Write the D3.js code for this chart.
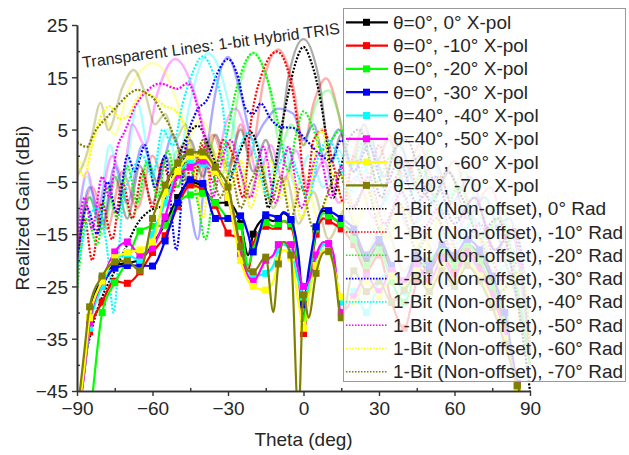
<!DOCTYPE html>
<html><head><meta charset="utf-8">
<script src="https://cdn.jsdelivr.net/npm/d3@7"></script>
<style>body{margin:0;background:#fff;} svg{display:block;font-family:"Liberation Sans",Arial,sans-serif;}</style>
</head><body><svg id="c" width="629" height="455"></svg>
<script>
const colors = ["#000000","#ff0000","#00ff00","#0000ff","#00ffff","#ff00ff","#ffff00","#808000"];
const xpolLabels = ["θ=0°, 0° X-pol","θ=0°, -10° X-pol","θ=0°, -20° X-pol","θ=0°, -30° X-pol","θ=40°, -40° X-pol","θ=40°, -50° X-pol","θ=40°, -60° X-pol","θ=40°, -70° X-pol"];
const radLabels = ["1-Bit (Non-offset), 0° Rad","1-Bit (Non-offset), -10° Rad","1-Bit (Non-offset), -20° Rad","1-Bit (Non-offset), -30° Rad","1-Bit (Non-offset), -40° Rad","1-Bit (Non-offset), -50° Rad","1-Bit (Non-offset), -60° Rad","1-Bit (Non-offset), -70° Rad"];
const xTicks = [-90,-60,-30,0,30,60,90];
const yTicks = [-45,-35,-25,-15,-5,5,15,25];

// X-pol curves (theta grid shared)
const thetaX = [-90,-87,-85,-80,-75,-70,-65,-60,-55,-50,-45,-40,-35,-30,-25,-22,-20,-15,-12,-10,-8,-5,-2,0,2,5,8,10,12,15,20,25,30,35,40,45,50,55,60,65,70,75,80,85,88,90];
const xpol0 = [-52,-40,-31,-23.5,-21,-20.5,-20,-17,-13,-8,-5,-6,-9,-9,-13,-19,-15,-12,-12.5,-12,-11,-12.5,-20,-31,-24,-14,-10.5,-11,-12,-13,-15,-20,-17,-22,-25,-20,-22,-18,-20,-17,-19,-24,-32,-44,-48,-52];
const xpol10 = [-52,-41,-33.7,-28,-24,-24.4,-22.2,-18.5,-15.3,-9.7,-5.6,-6.6,-9.5,-14.8,-16,-22,-17,-13.5,-14,-13.5,-12.5,-13.5,-22,-34,-26,-15,-12,-12.5,-13,-14,-17,-22,-19,-28,-33,-24,-21,-19,-22,-18,-21,-26,-33,-44.5,-48,-52];
const xpol20 = [-60,-55,-50,-30,-24.3,-20,-14.4,-13.5,-13.3,-9,-7.5,-7.2,-9,-12,-13.5,-21,-18,-12.8,-13.5,-13,-12.5,-13,-21,-31,-25,-14,-11,-11.5,-12,-13,-16,-21,-18,-24,-28,-22,-20,-18,-21,-17,-20,-25,-31,-44,-48,-52];
const xpol30 = [-50,-39,-32,-25,-21.5,-21,-21,-21.1,-16.3,-9,-4.6,-5.3,-12,-12,-11.5,-15,-18.4,-11.3,-11.5,-12,-10.8,-12.2,-19,-28.5,-22,-13.6,-10,-10.5,-11,-12,-14,-19,-16,-21,-24,-19,-21,-17,-19,-16,-18,-23,-30,-43.5,-48,-52];
const xpol40 = [-52,-41,-33,-25,-19.5,-19,-20,-15,-9,-3.5,-1.5,-1.5,-3,-8,-17.5,-22,-23,-22.5,-21,-18,-17,-18.5,-24,-27,-25,-20,-17,-17.5,-20,-28,-26,-30,-24,-22,-26,-22,-25,-21,-24,-20,-22,-27,-34,-44,-48,-52];
const xpol50 = [-52,-41,-32,-24,-18.4,-16.5,-19,-17.6,-11.7,-3.7,-2.2,-1,-3,-8,-19,-23,-24,-20,-19,-17,-16.5,-17,-22,-25,-24,-19,-16.5,-16.8,-19,-30,-27,-23,-26,-22,-24,-21,-24,-20,-23,-19,-22,-27,-34,-44,-48,-52];
const xpol60 = [-52,-40,-31,-24,-19.5,-18.5,-18,-16.5,-7,-3,0,0,-3,-8,-20,-24,-25,-25.7,-24,-20,-18,-19.5,-28,-33,-27,-21,-18,-18.5,-21,-27,-28,-24,-27,-23,-25,-22,-25,-21,-24,-20,-23,-28,-35,-44.5,-48,-52];
const xpol70 = [-50,-37,-28.9,-23,-20.3,-20.1,-22,-12,-5.6,-1.4,0.7,0.7,-2.2,-6,-17.4,-22,-22.2,-19.4,-29.9,-20.7,-16.5,-19,-50,-26.6,-31,-22.5,-18.5,-18.3,-21,-31,-22,-26,-24,-28,-25.7,-23,-26,-22,-25,-21,-24,-29,-36,-44,-48,-52];

// 1-bit non-offset radiation patterns: [theta, gain]
const rad0 = [[-90,-60],[-88,-44],[-84,-33],[-80,-27],[-76,-23],[-71,-18],[-66,-13],[-61,-10.5],[-56,-9.5],[-52,-4],[-47,3],[-42,5.7],[-37,1],[-31,-6],[-26,0],[-21,4.5],[-17,-1],[-14,-10],[-10,2],[-6,12],[-3,18],[0,20.8],[3,18],[7,10],[10,0],[12,-8],[14,-4],[18,3],[22,5],[27,-2],[31,-8],[36,1],[41,3],[46,-3],[51,-9],[57,-3],[63,-8],[70,-15],[77,-12],[84,-25],[90,-45]];
const rad10 = [[-90,-22],[-87,-12],[-84,-20],[-80,-9],[-76,-16],[-72,-5],[-68,-12],[-64,-3],[-60,-10],[-56,-1],[-52,-7],[-48,1],[-44,-6],[-40,2],[-36,-5],[-32,3],[-28,0],[-24,-8],[-21,6],[-17,15],[-10.5,19.9],[-5,14],[-2,5],[1,-7],[4,3],[8,5],[12,-2],[16,-9],[20,0],[25,-6],[30,2],[35,-5],[41,-1],[47,-8],[54,-4],[61,-12],[68,-8],[76,-18],[83,-14],[90,-38]];
const rad20 = [[-90,-26],[-86,-12],[-82,-17],[-78,-6],[-74,-12],[-70,-2],[-66,-9],[-62,-1],[-58,-8],[-54,1],[-50,-6],[-46,-1],[-42,-9],[-39,-16],[-35,-4],[-31,3],[-26,14],[-20,19.6],[-14,14],[-10,6],[-6,-3],[-3,4],[0,8.5],[4,5],[7,1],[11,3],[15,5],[19,-2],[24,3],[29,-5],[35,0],[41,-8],[48,-3],[55,-11],[62,-6],[70,-16],[78,-12],[86,-28],[90,-40]];
const rad30 = [[-90,-20],[-86,-10],[-82,-15],[-78,-5],[-74,-11],[-70,0],[-67,-3],[-63,2],[-59,-6],[-55,0],[-50.5,-18],[-47,1],[-43,8],[-38,11],[-34,16],[-30,18.5],[-26,15],[-23,9],[-20,8],[-17,10],[-13,7],[-9,5.5],[-4,5.3],[1,3],[6,0.5],[11,-1],[15,3],[20,-3],[26,2],[32,-6],[38,-1],[45,-9],[52,-4],[60,-13],[68,-8],[76,-18],[84,-14],[90,-35]];
const rad40 = [[-90,-22],[-86,-13],[-82,-10],[-78,-18],[-75.5,-30],[-72,-10],[-68,-3],[-64,0],[-60,-4],[-56,5],[-52,2],[-48,10],[-44,16],[-40,19],[-36,16],[-32,9],[-29,-4],[-25,2],[-22,4.5],[-18,-2],[-14,-8],[-10,-2],[-6,1],[-2,-4],[2,-8],[6,0],[10,3],[14,-1],[18,-7],[24,-2],[30,-10],[37,-5],[44,-13],[52,-8],[60,-17],[68,-12],[77,-22],[85,-18],[90,-35]];
const rad50 = [[-90,-18],[-87,-8],[-84,-14],[-80,-4],[-77,-8],[-74.5,0.5],[-70.7,5],[-67,9.3],[-62,12.5],[-57,13.8],[-50,12.8],[-46,13.9],[-42,9],[-39,2],[-36,-8],[-33,-2],[-29,3],[-25,-3],[-21,-8],[-16,1.7],[-11,-9],[-6,1.7],[-1,-10],[6,0.5],[11,-8],[15,-2],[20,-10],[26,-4],[32,-13],[39,-7],[46,-15],[54,-10],[62,-19],[70,-13],[79,-24],[86,-20],[90,-36]];
const rad60 = [[-90,-1],[-87,-4],[-84,2],[-80,8],[-77,9.5],[-73,7],[-70,7.5],[-66,11],[-63,12],[-59,11],[-55,9.5],[-51,8.7],[-47,5],[-43,-4],[-40,-12],[-37,-2],[-33,1],[-29,-6],[-25,-1],[-21,-10],[-17,-4],[-13,-1],[-9,-8],[-5,-3],[-1,-12],[2,-8],[7,5],[12,-4],[16,-4],[21,-13],[27,-7],[33,-16],[40,-10],[47,-18],[55,-12],[63,-21],[71,-16],[80,-26],[87,-22],[90,-36]];
const rad70 = [[-90,2.6],[-86,1.7],[-83,4.5],[-78,7.4],[-74,9.5],[-70,11.5],[-66,12.6],[-62,11.8],[-60,11.2],[-56,8],[-53,5.5],[-49,0],[-46,-6],[-43,-2],[-40,3],[-37,-1],[-33,-8],[-29,-3],[-25,-10],[-21,-5],[-17,-2],[-13,-9],[-9,-4],[-5,-12],[-1,-6],[4,-14],[9,-8],[14,-3],[19,-10],[25,-6],[31,-15],[38,-9],[45,-18],[53,-12],[61,-21],[69,-15],[78,-26],[86,-22],[90,-38]];

// transparent lines: 1-bit hybrid TRIS, [theta, gain]
const hyb0 = [[-90,-20],[-85,-8],[-80,-14],[-75,-4],[-70,-12],[-65,-2],[-60,-9],[-55,0],[-50,-6],[-45,3],[-40,-4],[-35,4],[-30,-2],[-25,5],[-20,-3],[-15,3],[-11,-2],[-6,15],[0,22.3],[6,15],[11,-1],[15,4],[19,-2],[24,6],[29,-1],[34,3],[40,-5],[46,0],[52,-8],[58,-3],[65,-12],[72,-8],[80,-20],[86,-30],[90,-40]];
const hyb10 = [[-90,-18],[-84,-6],[-78,-14],[-72,-3],[-66,-10],[-60,0],[-54,-7],[-48,2],[-42,-5],[-36,4],[-30,-3],[-25,6],[-21,0],[-16,14],[-10,20.3],[-4,13],[0,2],[4,10],[9,14.8],[14,8],[18,-2],[23,5],[28,-3],[34,4],[40,-4],[46,2],[53,-6],[60,-1],[67,-10],[74,-6],[82,-20],[90,-38]];
const hyb20 = [[-90,-22],[-85,-8],[-80,-15],[-74,-4],[-68,-12],[-62,-1],[-56,-8],[-50,1],[-44,-6],[-38,3],[-33,-4],[-30,0],[-25,14],[-20,19.8],[-14,14],[-9,2],[-5,6],[0,2],[5,10],[10,12.5],[15,6],[20,-3],[26,4],[32,-4],[38,3],[44,-5],[50,1],[57,-8],[64,-3],[71,-12],[78,-9],[85,-25],[90,-40]];
const hyb30 = [[-90,-20],[-85,-6],[-80,-13],[-75,-2],[-70,-9],[-64,2],[-58,-5],[-52,4],[-47,-4],[-42,-16],[-39,-2],[-35,12],[-30,18.9],[-25,12],[-20,3],[-16,6],[-10,9],[-4,8],[0,3],[4,6],[8,0],[14,5],[20,-3],[26,4],[32,-4],[38,2],[45,-6],[52,-1],[59,-9],[66,-4],[74,-14],[82,-12],[88,-30],[90,-36]];
const hyb40 = [[-90,-14],[-86,-4],[-82,-12],[-77,2],[-72,-6],[-66,10],[-60,-3],[-54,5],[-50,-2],[-46,8],[-42,16],[-38,19.6],[-33,16],[-28,6],[-24,-4],[-19,3],[-14,-4],[-8,2],[-3,-6],[2,0],[8,-6],[14,1],[20,-7],[27,-1],[34,-9],[41,-3],[48,-11],[56,-5],[64,-14],[72,-8],[80,-20],[87,-30],[90,-38]];
const hyb50 = [[-90,-15],[-86,-3],[-82,-10],[-76,0],[-72,-4],[-68,6],[-63,2],[-58,12],[-51,18.5],[-44,13],[-39,4],[-35,-2],[-31,6],[-27,9],[-22,3],[-18,-4],[-13,2],[-8,-5],[-3,1],[2,-6],[8,-1],[14,-9],[21,-4],[28,-12],[35,-6],[42,-14],[50,-8],[58,-17],[66,-11],[75,-22],[83,-16],[90,-35]];
const hyb60 = [[-90,0],[-87,-2],[-83,4],[-79,7],[-75,4],[-70,12],[-65,16],[-60,17.7],[-55,16],[-50,10],[-45,4],[-41,7],[-37,4],[-33,-4],[-29,1],[-25,-6],[-20,0],[-15,-8],[-10,-2],[-5,-10],[0,-3],[6,-12],[12,-5],[19,-14],[26,-7],[33,-16],[40,-9],[48,-18],[56,-11],[64,-20],[72,-14],[80,-25],[90,-35]];
const hyb70 = [[-90,-4],[-87,-1],[-84,4],[-80.7,10.1],[-77.5,4.9],[-72,13],[-67.5,16.4],[-63,12],[-59,6],[-55,8],[-51,3],[-47,6],[-42,-3],[-37,2],[-32,-6],[-27,0],[-22,-8],[-17,-2],[-12,-10],[-7,-4],[-2,-13],[4,-7],[10,-16],[17,-10],[24,-19],[32,-13],[40,-22],[48,-16],[57,-25],[66,-19],[75,-28],[83,-24],[90,-40]];

const xpolSeries = [xpol0,xpol10,xpol20,xpol30,xpol40,xpol50,xpol60,xpol70];
const radSeries = [rad0,rad10,rad20,rad30,rad40,rad50,rad60,rad70];
const hybSeries = [hyb0,hyb10,hyb20,hyb30,hyb40,hyb50,hyb60,hyb70];

const L=77, R=530, T=25, B=391;
const x = d3.scaleLinear().domain([-90,90]).range([L,R]);
const y = d3.scaleLinear().domain([-45,25]).range([B,T]);
const svg = d3.select("#c");

svg.append("defs").append("clipPath").attr("id","plot")
  .append("rect").attr("x",L).attr("y",T-2).attr("width",R-L+6).attr("height",B-T+2);

const line = d3.line().x(d=>x(d[0])).y(d=>y(d[1])).curve(d3.curveMonotoneX);
const g = svg.append("g").attr("clip-path","url(#plot)");

// transparent hybrid lines
hybSeries.forEach((s,i)=>{
  g.append("path").attr("d",line(s)).attr("fill","none")
   .attr("stroke",colors[i]).attr("stroke-width",2.4).attr("stroke-opacity",0.33);
});
// dotted 1-bit lines
radSeries.forEach((s,i)=>{
  g.append("path").attr("d",line(s)).attr("fill","none")
   .attr("stroke",colors[i]).attr("stroke-width",2.2).attr("stroke-dasharray","2,1.6");
});
// X-pol lines with markers
xpolSeries.forEach((s,i)=>{
  const pts = thetaX.map((t,k)=>[t,s[k]]);
  g.append("path").attr("d",line(pts)).attr("fill","none")
   .attr("stroke",colors[i]).attr("stroke-width",2.2);
  g.selectAll(null).data(pts.filter(p=>p[0]%5===0)).enter().append("rect")
   .attr("x",d=>x(d[0])-3.5).attr("y",d=>y(d[1])-3.5).attr("width",7).attr("height",7)
   .attr("fill",colors[i]);
});

// axes
const axCol = "#333";
const yMaj = svg.append("g").attr("transform",`translate(${L},0)`)
  .call(d3.axisLeft(y).tickValues(yTicks).tickSize(5).tickSizeOuter(0).tickPadding(4));
const yMin = svg.append("g").attr("transform",`translate(${L},0)`)
  .call(d3.axisRight(y).tickValues([-40,-30,-20,-10,0,10,20]).tickSize(3).tickSizeOuter(0).tickFormat(""));
const xMaj = svg.append("g").attr("transform",`translate(0,${B})`)
  .call(d3.axisBottom(x).tickValues(xTicks).tickSize(5).tickSizeOuter(0).tickPadding(6));
const xMin = svg.append("g").attr("transform",`translate(0,${B})`)
  .call(d3.axisTop(x).tickValues([-75,-45,-15,15,45,75]).tickSize(3).tickSizeOuter(0).tickFormat(""));
[yMaj,yMin,xMaj,xMin].forEach(a=>{
  a.select(".domain").attr("stroke",axCol).attr("stroke-width",1.6);
  a.selectAll(".tick line").attr("stroke",axCol).attr("stroke-width",1.4);
  a.selectAll(".tick text").attr("fill","#262626").style("font-size","19px")
   .style("font-family",'"Liberation Sans",Arial,sans-serif');
});
yMaj.selectAll(".tick text").attr("dy","0.36em");
xMaj.selectAll(".tick text").attr("dy","0.71em");

// axis titles
svg.append("text").attr("x",(L+R)/2).attr("y",446).attr("text-anchor","middle")
  .attr("fill","#262626").style("font-size","19px").text("Theta (deg)");
svg.append("text").attr("transform",`translate(29,${(T+B)/2}) rotate(-90)`).attr("text-anchor","middle")
  .attr("fill","#262626").style("font-size","19px").text("Realized Gain (dBi)");

// annotation
svg.append("text").attr("transform","translate(83,68) rotate(-7.6)")
  .attr("fill","#262626").style("font-size","16px").text("Transparent Lines: 1-bit Hybrid TRIS");

// legend
const lg = svg.append("g");
lg.append("rect").attr("x",343.5).attr("y",8.5).attr("width",282).attr("height",373)
  .attr("fill","#fff").attr("fill-opacity",0.8).attr("stroke","#999").attr("stroke-width",1);
const allLabels = xpolLabels.concat(radLabels);
allLabels.forEach((lab,k)=>{
  const cy = 22.3 + k*23.3;
  const ci = k%8;
  const ln = lg.append("line").attr("x1",346).attr("x2",388).attr("y1",cy).attr("y2",cy)
    .attr("stroke",colors[ci]);
  if(k<8){
    ln.attr("stroke-width",2.2);
    lg.append("rect").attr("x",363).attr("y",cy-3.5).attr("width",7).attr("height",7).attr("fill",colors[ci]);
  } else {
    ln.attr("stroke-width",1.6).attr("stroke-dasharray","1.5,1.5");
  }
  lg.append("text").attr("x",393).attr("y",cy+6.5).attr("fill","#262626")
    .style("font-size","19px").text(lab);
});
</script></body></html>
